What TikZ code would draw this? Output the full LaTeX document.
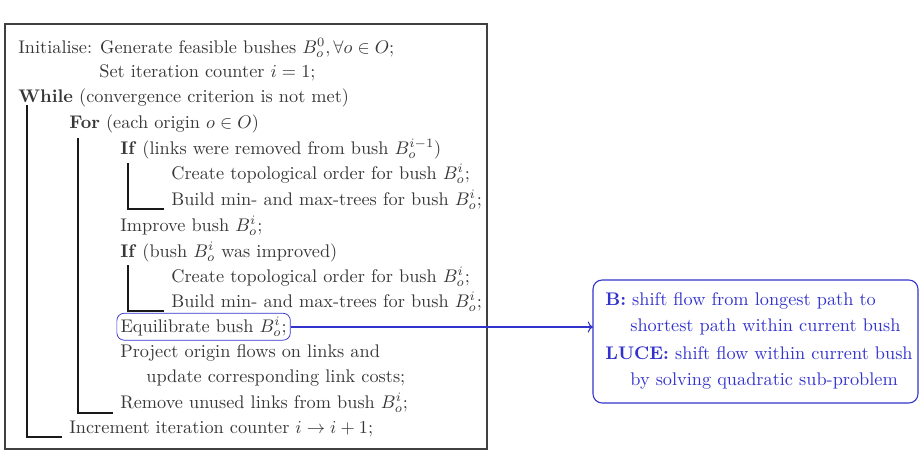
\documentclass[tikz,border=0pt]{standalone}
\usepackage{amsmath, amssymb}
\usetikzlibrary{arrows.meta, positioning}
\definecolor{textgray}{RGB}{55,55,55}
\definecolor{blue1}{RGB}{50,50,205}

\begin{document}
\begin{tikzpicture}[x=0.547pt, y=-0.547pt,
  algline/.style={anchor=base west, inner sep=0pt, text=textgray},
  bracket/.style={draw=black!90, line width=0.6pt},
  noteline/.style={anchor=base west, inner sep=0pt, text=blue1}]
\useasboundingbox (0,0) rectangle (921,460);
% algorithm frame
\draw[black!75, line width=0.8pt] (5,24) rectangle (487,449);

\node[algline] (init)   at (18,53)  {Initialise: Generate feasible bushes $B_o^0, \forall o \in O$;};
\node[algline] (setit)  at (99,77)  {Set iteration counter $i=1$;};
\node[algline] (while)  at (18,102) {\textbf{While} (convergence criterion is not met)};
\node[algline] (for)    at (69,128) {\textbf{For} (each origin $o \in O$)};
\node[algline] (ifrem)  at (120,154) {\textbf{If} (links were removed from bush $B_o^{i-1}$)};
\node[algline] (topoA)  at (171,179) {Create topological order for bush $B_o^i$;};
\node[algline] (treeA)  at (171,205) {Build min- and max-trees for bush $B_o^i$;};
\node[algline] (improve) at (120,231) {Improve bush $B_o^i$;};
\node[algline] (ifimp)  at (120,257) {\textbf{If} (bush $B_o^i$ was improved)};
\node[algline] (topoB)  at (171,282) {Create topological order for bush $B_o^i$;};
\node[algline] (treeB)  at (171,307) {Build min- and max-trees for bush $B_o^i$;};
\node[algline, draw=blue1, rounded corners=4pt, inner sep=2pt] (equil) at (116.5,332) {Equilibrate bush $B_o^i$;};
\node[algline] (project) at (120,357) {Project origin flows on links and};
\node[algline] (update) at (146,382) {update corresponding link costs;};
\node[algline] (remove) at (120,408) {Remove unused links from bush $B_o^i$;};
\node[algline] (incr)   at (69,433) {Increment iteration counter $i \to i+1$;};

% loop brackets
\coordinate (whileTop) at (27,105);  \coordinate (whileEnd) at (62,437);
\coordinate (forTop)   at (78,138);  \coordinate (forEnd)   at (113,413);
\coordinate (ifremTop) at (128,163); \coordinate (ifremEnd) at (164,209);
\coordinate (ifimpTop) at (128,265); \coordinate (ifimpEnd) at (164,311);
\draw[bracket] (whileTop) |- (whileEnd);
\draw[bracket] (forTop) |- (forEnd);
\draw[bracket] (ifremTop) |- (ifremEnd);
\draw[bracket] (ifimpTop) |- (ifimpEnd);

% note on the equilibration step
\draw[blue1, line width=0.6pt, rounded corners=5pt] (593,280) rectangle (918,403);
\node[noteline] (noteB)   at (605,305) {\textbf{B:} shift flow from longest path to};
\node[noteline] (noteB2)  at (630,331) {shortest path within current bush};
\node[noteline] (noteL)   at (605,359) {\textbf{LUCE:} shift flow within current bush};
\node[noteline] (noteL2)  at (630,385) {by solving quadratic sub-problem};
\coordinate (noteIn) at (593,327);
\draw[blue1, line width=0.6pt, -{To}] (equil.east |- noteIn) -- (noteIn);
\end{tikzpicture}
\end{document}
